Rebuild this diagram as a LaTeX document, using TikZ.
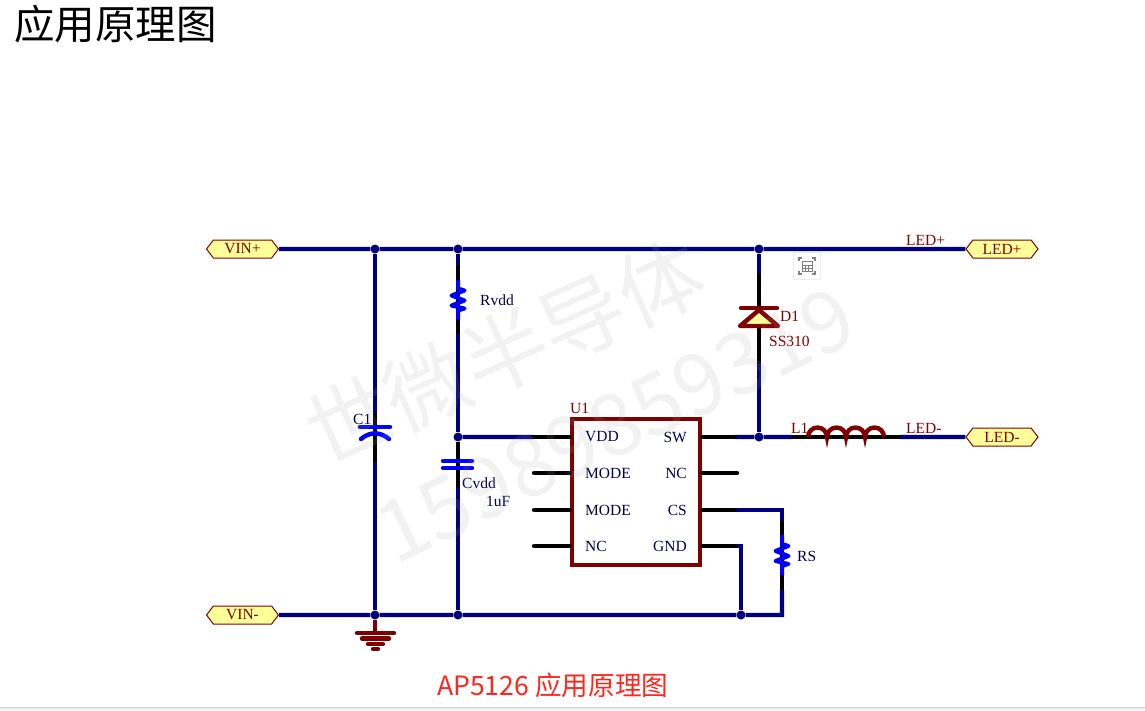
\documentclass[tikz,border=0pt]{standalone}
\usepackage{fontspec}
\setmainfont{Liberation Serif}
\newfontfamily\cjk{Noto Sans CJK SC}
\usetikzlibrary{shapes.symbols}
\definecolor{netblue}{HTML}{000080}
\definecolor{partred}{HTML}{800000}
\definecolor{tagfill}{HTML}{FFFF99}
\definecolor{pintext}{HTML}{000050}
\tikzset{wire/.style = {netblue, line width=4.4pt}}
\tikzset{pinwire/.style = {black, line width=4.4pt, line cap=round}}
\tikzset{redpart/.style = {partred, line width=4.4pt, line cap=round}}
\tikzset{bluepart/.style = {blue, line width=4.4pt, line cap=round}}
\tikzset{circ/.style = {fill=netblue, circle, inner sep=0, minimum size=9pt}}
\tikzset{tag/.style = {signal, signal to=east and west, signal pointer angle=105, draw=partred, line width=1pt, fill=tagfill, text=partred, minimum width=72pt, minimum height=18pt, inner sep=0, font=\fontsize{15.5}{15.5}\selectfont}}
\tikzset{lab/.style = {anchor=west, inner sep=0, font=\fontsize{15.5}{15.5}\selectfont}}
\tikzset{pinlab/.style = {lab, text=pintext}}
\tikzset{netlab/.style = {lab, text=partred}}
\tikzset{mark text/.style = {gray!70, opacity=0.14, font=\cjk\fontsize{85}{85}\selectfont, inner sep=0}}
\tikzset{zigres/.pic = {\draw[bluepart, line width=4pt, line cap=butt, line join=round] (0,-20)--(0,-11)--(6.5,-9)--(-6.5,-4)--(6.5,1)--(-6.5,6)--(6.5,9)--(0,11)--(0,20);}}
\begin{document}
\begin{tikzpicture}[x=1pt,y=-1pt]
    \useasboundingbox (0,0) rectangle (1145,710);
    \fill [gray!12] (0,707) rectangle (1145,710);
    \draw [gray!35, line width=0.8pt] (0,707)--(1145,707);
    % nets
    \node (jtopa) [circ] at (375,249) {};
    \node (jtopb) [circ] at (458,249) {};
    \node (jtopc) [circ] at (759,249) {};
    \node (jmida) [circ] at (458,437) {};
    \node (jmidb) [circ] at (759,437) {};
    \node (jbota) [circ] at (375,615) {};
    \node (jbotb) [circ] at (458,615) {};
    \node (jbotc) [circ] at (741,615) {};
    \node (vinp) [tag] at (242.5,249) {VIN+};
    \node (vinm) [tag] at (242.5,615) {VIN-};
    \node (ledp) [tag] at (1002,249) {LED+};
    \node (ledm) [tag] at (1002,437) {LED-};
    \node (u1) [rectangle, draw=partred, line width=4.4pt, fill=white, minimum width=128pt, minimum height=146pt, inner sep=0] at (636,492) {};
    % pins and part leads
    \coordinate (vdda) at (534,437);  \coordinate (vddb) at (570,437);
    \coordinate (moa) at (534,473);   \coordinate (mob) at (570,473);
    \coordinate (mca) at (534,510);   \coordinate (mcb) at (570,510);
    \coordinate (nca) at (534,546);   \coordinate (ncb) at (570,546);
    \coordinate (swa) at (702,437);   \coordinate (swb) at (735,437);
    \coordinate (nra) at (702,473);   \coordinate (nrb) at (737,473);
    \coordinate (csa) at (702,510);   \coordinate (csb) at (735,510);
    \coordinate (gna) at (702,546);   \coordinate (gnb) at (735,546);
    \coordinate (csc) at (782,510);   \coordinate (gnc) at (741,546);
    \coordinate (rsb) at (782,615);
    \coordinate (coila) at (808,437); \coordinate (coilb) at (884,437);
    \coordinate (lm) at (792,437);    \coordinate (lr) at (900,437);
    \coordinate (ca) at (375,413);    \coordinate (cb) at (375,462);
    \coordinate (va) at (458,488);
    \coordinate (ra) at (458,265);    \coordinate (rb) at (458,334);
    \coordinate (da) at (759,273);    \coordinate (db) at (759,364);
    \coordinate (sa) at (782,521);    \coordinate (sb) at (782,590);
    \draw [wire] (vinp)--(jtopa)--(jtopb)--(jtopc)--(ledp);
    \draw [wire] (vinm)--(jbota)--(jbotb)--(jbotc)--(rsb)--(sb);
    \draw [wire] (jtopa)--(ca) (cb)--(jbota);
    \draw [wire] (jtopb)--(ra) (rb)--(jmida) (va)--(jbotb);
    \draw [wire] (jtopc)--(da) (db)--(jmidb);
    \draw [wire] (jmida)--(vdda) (swb)--(jmidb)--(lm) (lr)--(ledm);
    \draw [wire] (csb)--(csc)--(sa);
    \draw [wire] (gnb)--(gnc)--(jbotc);
    \draw [pinwire] (vdda)--(vddb) (moa)--(mob) (mca)--(mcb) (nca)--(ncb);
    \draw [pinwire] (swa)--(swb) (nra)--(nrb) (csa)--(csb) (gna)--(gnb);
    \draw [pinwire, line cap=butt] (ca)--(cb) (jmida)--(va) (ra)--(rb) (da)--(db) (sa)--(sb) (lm)--(lr);
    % parts
    \pic at (458,299.5) {zigres};
    \pic at (782,555) {zigres};
    \draw [bluepart] (360,427)--(390,427);
    \draw [bluepart] (361,439) .. controls (370,431.5) and (380,431.5) .. (389,439);
    \draw [bluepart] (443,461)--(472,461) (443,468)--(472,468);
    \draw [redpart, fill=tagfill, line join=round] (759,310)--(740,326)--(778,326)--cycle;
    \draw [redpart] (741,308)--(777,308);
    \draw [redpart, line cap=butt] (coila) arc [start angle=180, end angle=0, radius=9.5pt] arc [start angle=180, end angle=0, radius=9.5pt] arc [start angle=180, end angle=0, radius=9.5pt] arc [start angle=180, end angle=0, radius=9.5pt];
    % ground
    \coordinate (gnda) at (375,633);
    \draw [redpart, line cap=butt] (jbota)--(gnda);
    \draw [redpart] (357,633)--(394,633) (362,638.5)--(389,638.5) (368,644)--(383,644) (373,649)--(378,649);
    % labels
    \node (lu1) [netlab] at (570,408) {U1};
    \node (pvdd) [pinlab] at (585,437) {VDD};
    \node (pmoa) [pinlab] at (585,473) {MODE};
    \node (pmob) [pinlab] at (585,510) {MODE};
    \node (pnca) [pinlab] at (585,546) {NC};
    \node (psw) [pinlab, anchor=east] at (687,437) {SW};
    \node (pncb) [pinlab, anchor=east] at (687,473) {NC};
    \node (pcs) [pinlab, anchor=east] at (687,510) {CS};
    \node (pgnd) [pinlab, anchor=east] at (687,546) {GND};
    \node (lrvdd) [pinlab] at (480,300) {Rvdd};
    \node (lc1) [pinlab] at (353,419) {C1};
    \node (lcvdd) [pinlab] at (462,483) {Cvdd};
    \node (lcval) [pinlab] at (486,501) {1uF};
    \node (lrs) [pinlab] at (797,556) {RS};
    \node (ld1) [netlab] at (780,316) {D1};
    \node (ldv) [netlab] at (769,341) {SS310};
    \node (ll1) [netlab] at (791,428) {L1};
    \node (nlp) [netlab] at (906,240) {LED+};
    \node (nlm) [netlab] at (906,428) {LED-};
    % viewer button
    \node (calc) [rectangle, draw=gray!15, line width=1pt, fill=white, minimum size=27pt, inner sep=0] at (807,266) {};
    \draw [gray, line width=1.2pt] (799,261)--(799,258)--(802,258) (812,258)--(815,258)--(815,261) (815,271)--(815,274)--(812,274) (802,274)--(799,274)--(799,271);
    \draw [gray, line width=1pt] (802,261) rectangle (812,271) (802,265)--(812,265) (802,268)--(812,268) (805.5,265)--(805.5,271) (808.5,265)--(808.5,271);
    % title and caption
    \node (title) [anchor=west, inner sep=0, font=\cjk\fontsize{40.5}{40.5}\selectfont] at (14,24) {应用原理图};
    \node (caption) [anchor=west, inner sep=0, text={rgb,255:red,255;green,38;blue,30}, font=\cjk\fontsize{26.6}{26.6}\selectfont] at (437,685) {AP5126 应用原理图};
    % watermark
    \node (wmname) [mark text, rotate=24] at (505,352) {世微半导体};
    \node (wmtel) [mark text, rotate=26] at (615,425) {15989859319};
\end{tikzpicture}
\end{document}
